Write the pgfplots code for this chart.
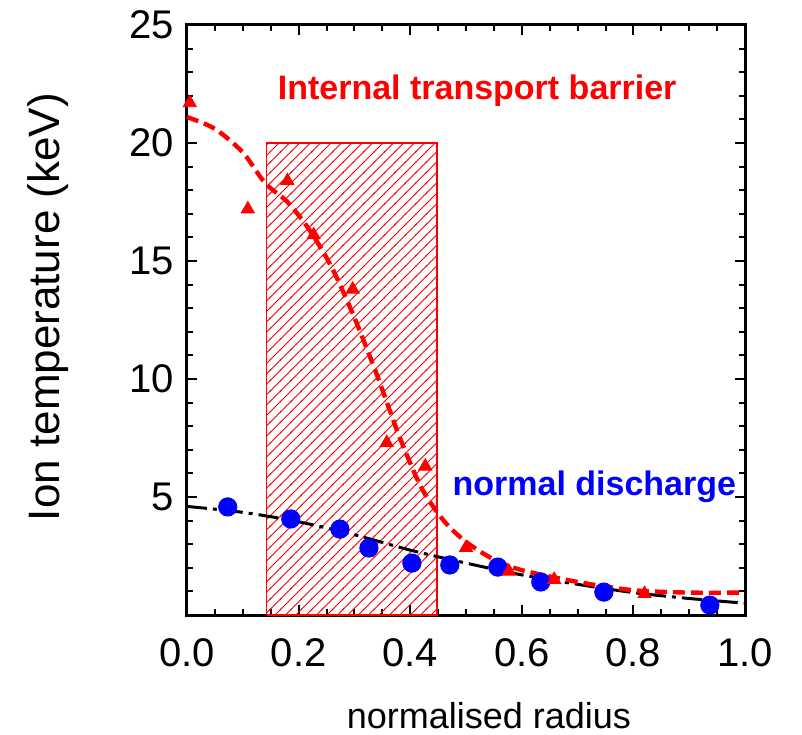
\documentclass[border=0pt]{standalone}
\usepackage{fontspec}
\setmainfont{Liberation Sans}
\usepackage{pgfplots}
\pgfplotsset{compat=1.18}
\usetikzlibrary{patterns.meta}

\tikzdeclarepattern{
  name=redhatch,
  type=colored,
  bottom left={(-0.5pt,-0.5pt)},
  top right={(5.5pt,5.5pt)},
  tile size={(5.2pt,5.2pt)},
  code={
    \draw[red, line width=0.45pt] (-0.5pt,-0.5pt) -- (5.7pt,5.7pt);
  }
}

\begin{document}
\begin{tikzpicture}
\begin{axis}[
  scale only axis, width=279pt, height=295pt,
  xmin=0, xmax=1, ymin=0, ymax=25,
  xtick={0,0.2,0.4,0.6,0.8,1.0},
  minor xtick={0.05,0.1,0.15,0.25,0.3,0.35,0.45,0.5,0.55,0.65,0.7,0.75,0.85,0.9,0.95},
  ytick={5,10,15,20,25},
  minor ytick={1,2,3,4,6,7,8,9,11,12,13,14,16,17,18,19,21,22,23,24},
  tick align=inside,
  major tick length=5pt, minor tick length=3pt,
  axis line style={line width=1.5pt},
  every tick/.style={black, line width=1pt},
  /pgf/number format/assume math mode=true,
  xticklabel style={font=\fontsize{20}{24}\selectfont, yshift=-8pt,
    /pgf/number format/.cd, fixed, fixed zerofill, precision=1},
  yticklabel style={font=\fontsize{20}{24}\selectfont, xshift=-3pt},
  xlabel={normalised radius},
  xlabel style={font=\fontsize{18}{22}\selectfont, at={(axis description cs:0.541,-0.17)}, anchor=center},
  ylabel={Ion temperature (keV)},
  ylabel style={font=\fontsize{22}{26}\selectfont, at={(axis description cs:-0.249,0.522)}, anchor=center},
  clip=false,
]
% barrier region
\addplot[draw=red, line width=0.6pt, pattern=redhatch]
  coordinates {(0.143,0) (0.143,20) (0.448,20) (0.448,0) (0.143,0)};

% fits
\addplot[black, line width=1.5pt, dash pattern=on 10pt off 3pt on 2pt off 3pt, smooth, no marks]
  coordinates {(0,4.6) (0.1,4.35) (0.2,3.95) (0.3,3.4) (0.4,2.75) (0.5,2.2) (0.6,1.7) (0.7,1.3) (0.8,0.95) (0.9,0.7) (1.0,0.5)};
\addplot[red, line width=2.2pt, dash pattern=on 6pt off 3pt, smooth, no marks]
  coordinates {(0,21.1) (0.05,20.6) (0.1,19.6) (0.14,18.3) (0.18,17.5) (0.22,16.3) (0.26,14.7) (0.30,12.6) (0.34,10.2) (0.38,7.6) (0.42,5.4) (0.46,4.0) (0.5,3.1) (0.55,2.35) (0.6,1.9) (0.7,1.4) (0.8,1.05) (0.9,0.95) (1.0,0.95)};

% measurements
\addplot[only marks, mark=*, mark size=4.6pt, blue, mark options={draw=blue, fill=blue}]
  coordinates {(0.073,4.58) (0.186,4.07) (0.274,3.64) (0.326,2.84) (0.403,2.2) (0.471,2.12) (0.557,2.03) (0.634,1.4) (0.747,0.97) (0.937,0.42)};
\addplot[only marks, mark=triangle*, mark size=3.8pt, red, mark options={draw=red, fill=red}]
  coordinates {(0.005,21.7) (0.109,17.2) (0.18,18.4) (0.227,16.1) (0.297,13.8) (0.358,7.3) (0.427,6.3) (0.5,2.85) (0.577,1.85) (0.658,1.5) (0.82,0.9)};

\node[red, font=\fontsize{17}{20}\selectfont\bfseries] at (axis cs:0.52,22.2) {Internal transport barrier};
\node[blue, font=\fontsize{17}{20}\selectfont\bfseries] at (axis cs:0.73,5.45) {normal discharge};
\end{axis}
\pgfresetboundingbox
\useasboundingbox ([xshift=-93.5pt,yshift=-59.5pt]current axis.south west) rectangle ([xshift=28.5pt,yshift=12.5pt]current axis.north east);
\end{tikzpicture}
\end{document}
